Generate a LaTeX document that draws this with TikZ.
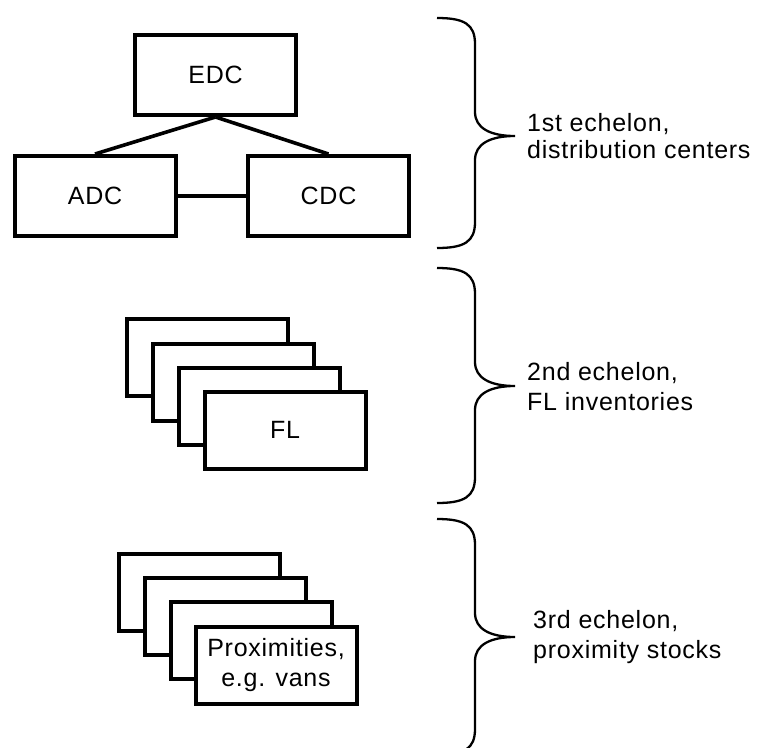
\documentclass[tikz,border=0pt]{standalone}
\usepackage{fontspec}
\setmainfont{Liberation Sans}[LetterSpace=3.0]
\begin{document}
\begin{tikzpicture}[x=1pt,y=-1pt,
  box/.style={draw,line width=4pt,fill=white,minimum width=161pt,minimum height=80pt,inner sep=0pt,font=\fontsize{25}{29}\selectfont,align=center},
  sbox/.style={box,minimum height=77pt},
  link/.style={line width=3.6pt},
  brace/.style={line width=2.3pt},
  lbl/.style={anchor=west,align=left,inner sep=0pt,font=\fontsize{25}{30}\selectfont}]
\useasboundingbox (0,0) rectangle (757,747);
% 1st echelon
\node[box] (edc) at (215.5,75) {EDC};
\node[box] (adc) at (95,196) {ADC};
\node[box] (cdc) at (328.5,196) {CDC};
\draw[link] (edc.south) -- (adc.north);
\draw[link] (edc.south) -- (cdc.north);
\draw[link] (adc.east) -- (cdc.west);
% 2nd echelon stack
\node[sbox] (fl1) at (207.5,357.5) {};
\node[sbox] (fl2) at (233.5,382) {};
\node[sbox] (fl3) at (259.5,406) {};
\node[sbox] (fl4) at (285,430) {FL};
% 3rd echelon stack
\node[sbox] (px1) at (199,592) {};
\node[sbox] (px2) at (225,616) {};
\node[sbox] (px3) at (251,640) {};
\node[sbox,font=\fontsize{25}{30}\selectfont] (px4) at (276,665) {Proximities,\\e.g. vans};
% braces
\draw[brace] (437,18) .. controls (464,18) and (475,24) .. (475,44) -- (475,112)
  .. controls (475,128) and (490,136) .. (515,136)
  .. controls (490,136) and (475,144) .. (475,160) -- (475,222)
  .. controls (475,242) and (464,248) .. (437,248);
\draw[brace] (437,268) .. controls (464,268) and (475,274) .. (475,294) -- (475,362)
  .. controls (475,378) and (490,386) .. (515,386)
  .. controls (490,386) and (475,394) .. (475,410) -- (475,477)
  .. controls (475,497) and (464,503) .. (437,503);
\draw[brace] (437,519) .. controls (464,519) and (475,525) .. (475,545) -- (475,613)
  .. controls (475,629) and (490,637) .. (515,637)
  .. controls (490,637) and (475,645) .. (475,661) -- (475,729)
  .. controls (475,749) and (464,755) .. (437,755);
% labels
\node[lbl,font=\fontsize{25}{27}\selectfont] (l1) at (527,136) {1st echelon,\\distribution centers};
\node[lbl] (l2) at (527,387) {2nd echelon,\\FL inventories};
\node[lbl] (l3) at (533,637) {3rd echelon,\\proximity stocks};
\end{tikzpicture}
\end{document}
